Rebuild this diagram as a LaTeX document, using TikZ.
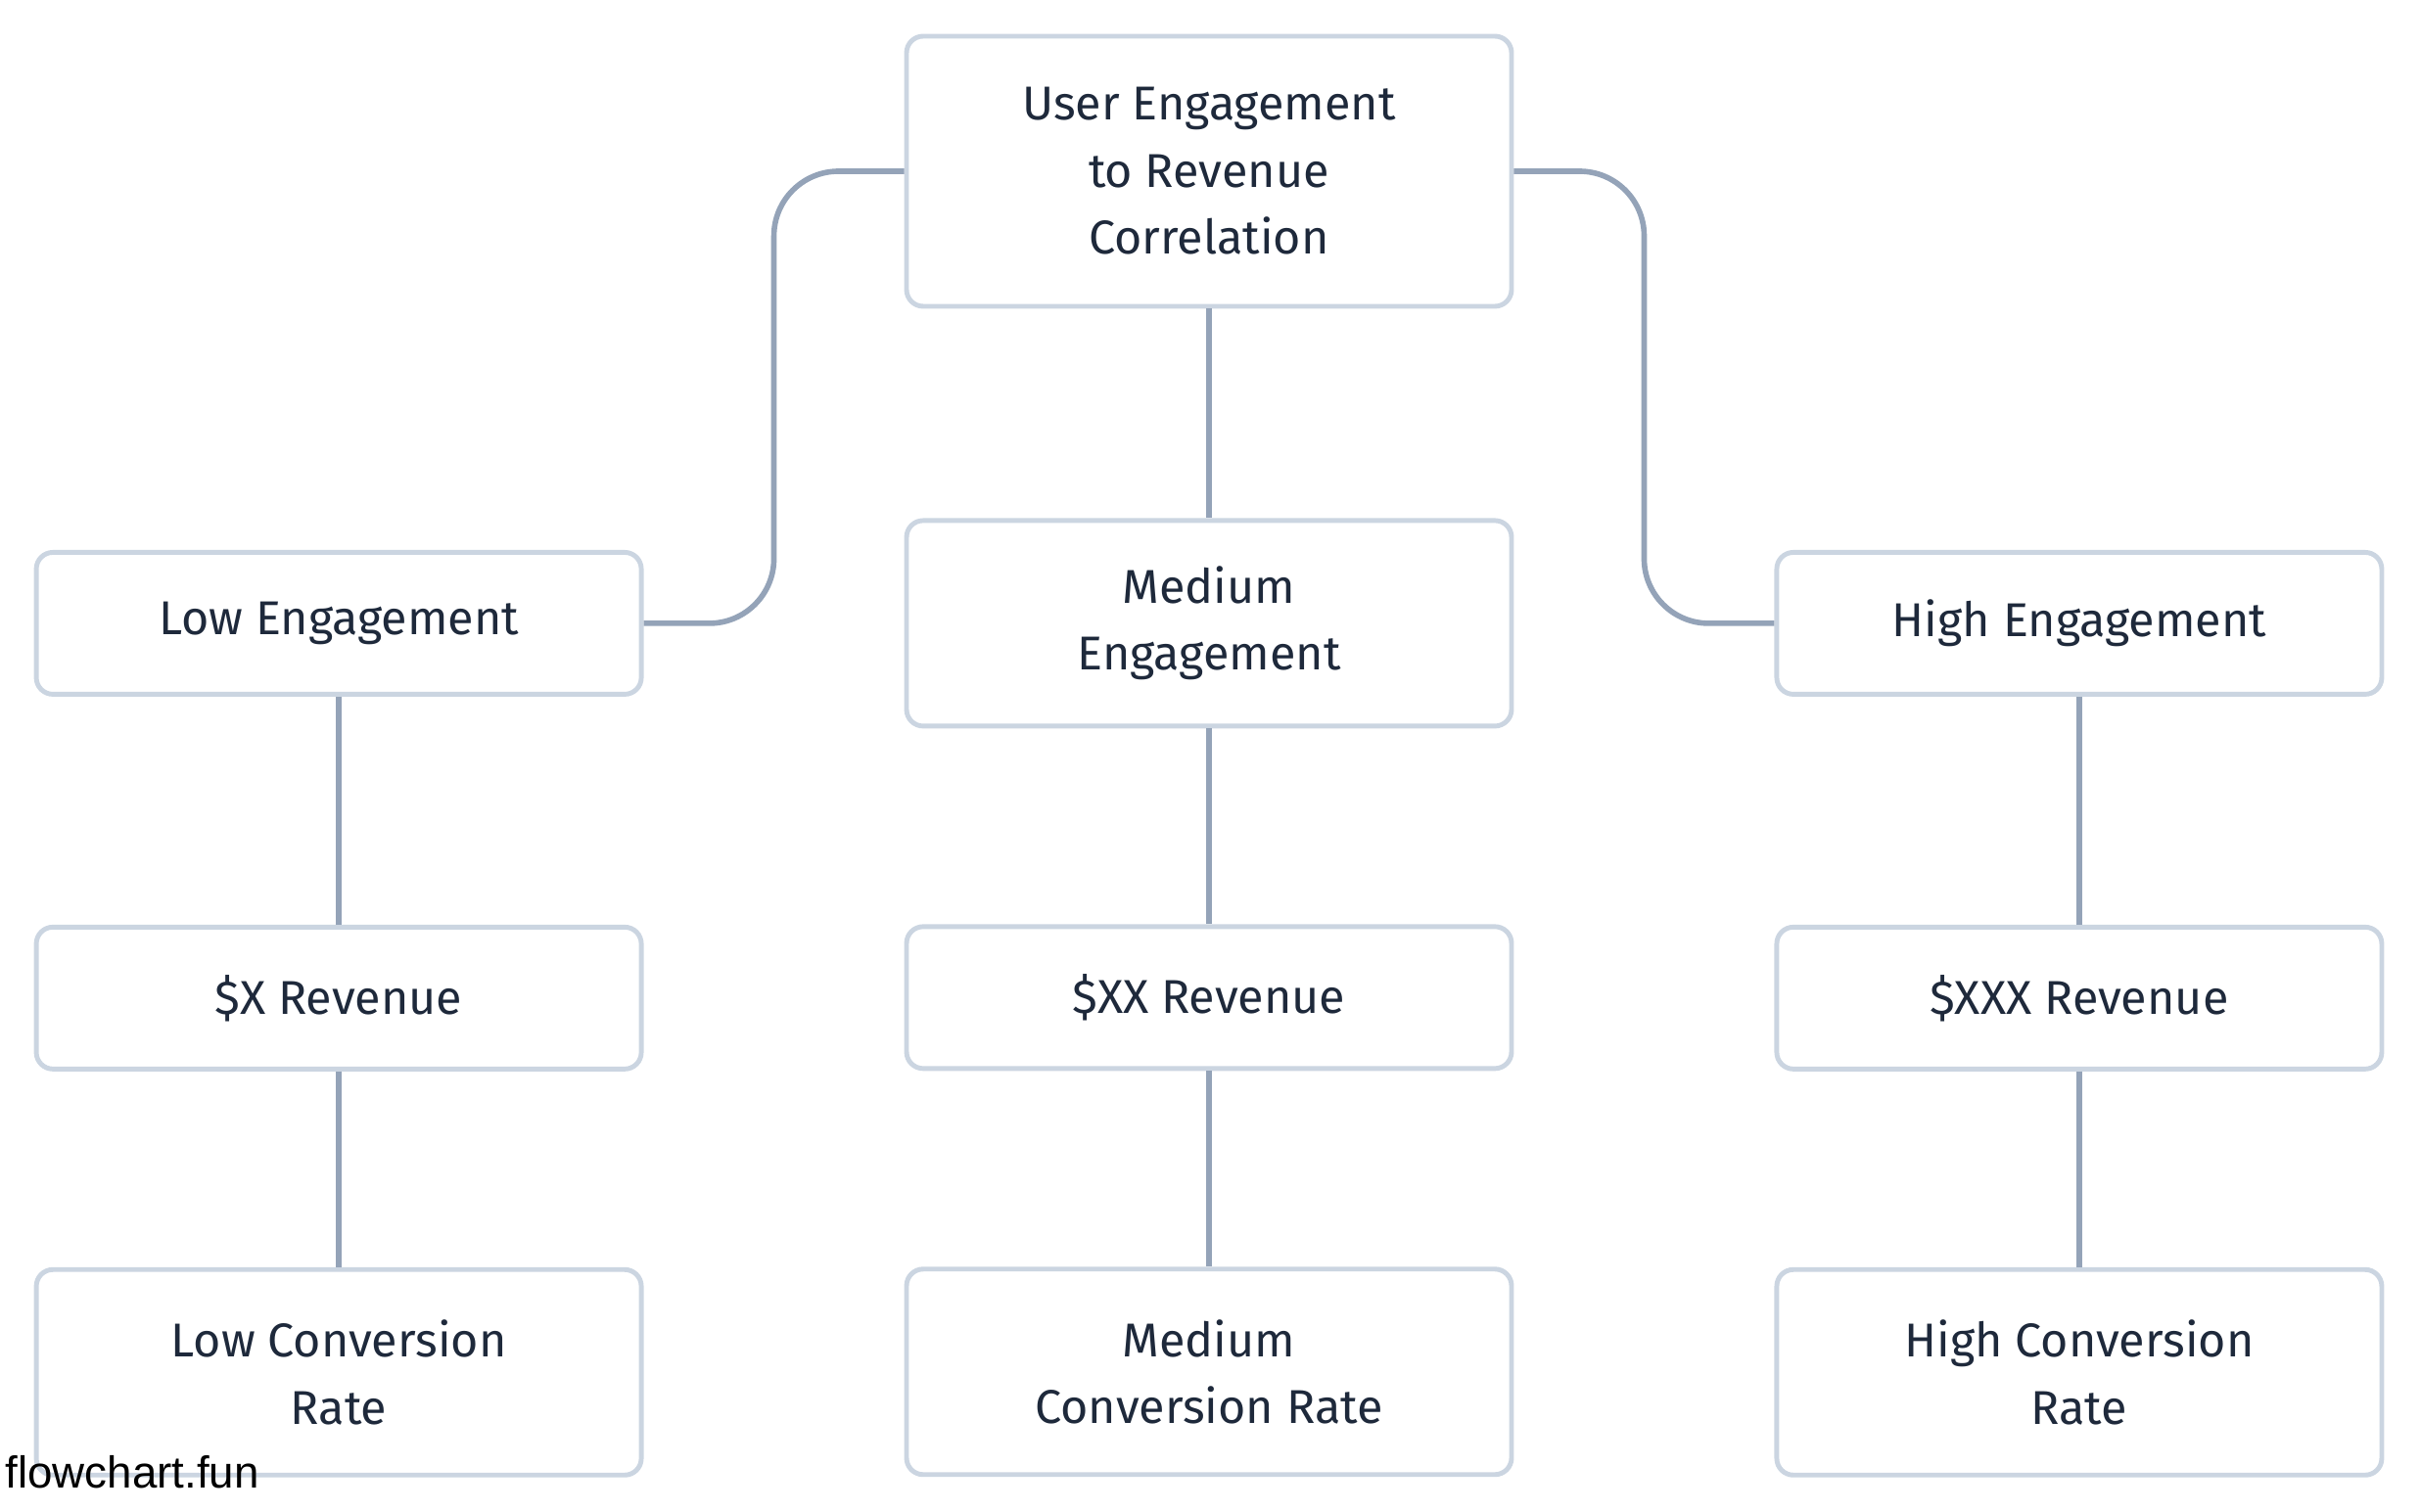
\documentclass[tikz,border=0pt]{standalone}
\usepackage{fontspec}
\setmainfont{Fira Sans}
\newfontfamily\markfont{Liberation Sans}
\usepackage{tikz}
\usetikzlibrary{positioning,calc}
\definecolor{boxline}{HTML}{CBD5E1}
\definecolor{edgeline}{HTML}{94A3B8}
\definecolor{boxtext}{HTML}{1E293B}

\begin{document}
\begin{tikzpicture}[
  card/.style={rectangle, draw=boxline, line width=1.4pt, rounded corners=0.17cm,
               fill=white, minimum width=6.18cm, minimum height=1.45cm, align=center,
               text=boxtext, font=\fontsize{13.8}{19.5}\selectfont},
  tall/.style={card, minimum height=2.1cm},
  link/.style={draw=edgeline, line width=1.6pt, rounded corners=0.66cm}
]
  \useasboundingbox (0,0) rectangle (24.72,-15.45);

  \node[card, minimum height=2.76cm] (corr) at (12.35,-1.75) {User Engagement\\to Revenue\\Correlation};
  \node[tall, below=2.14cm of corr] (med) {Medium\\Engagement};
  \node[card, left=2.66cm of med] (low) {Low Engagement};
  \node[card, right=2.66cm of med] (high) {High Engagement};

  \node[card, below=2.33cm of low] (xrev) {\$X Revenue};
  \node[card, below=2.0cm of med] (xxrev) {\$XX Revenue};
  \node[card, below=2.33cm of high] (xxxrev) {\$XXX Revenue};

  \node[tall, below=2.0cm of xrev] (lowconv) {Low Conversion\\Rate};
  \node[tall, below=2.0cm of xxrev] (medconv) {Medium\\Conversion Rate};
  \node[tall, below=2.0cm of xxxrev] (highconv) {High Conversion\\Rate};

  \begin{scope}[on background layer/.try]
  \draw[link] (corr.west) -| ($(corr.west)!0.5!(low.east)$) |- (low.east);
  \draw[link] (corr.east) -| ($(corr.east)!0.5!(high.west)$) |- (high.west);
  \draw[link] (corr) -- (med);
  \draw[link] (low) -- (xrev);
  \draw[link] (med) -- (xxrev);
  \draw[link] (high) -- (xxxrev);
  \draw[link] (xrev) -- (lowconv);
  \draw[link] (xxrev) -- (medconv);
  \draw[link] (xxxrev) -- (highconv);
  \end{scope}

  \node[anchor=base west, inner sep=0pt, font=\markfont\fontsize{13}{15}\selectfont] (mark) at (0.05,-15.20) {flowchart.fun};
\end{tikzpicture}
\end{document}
